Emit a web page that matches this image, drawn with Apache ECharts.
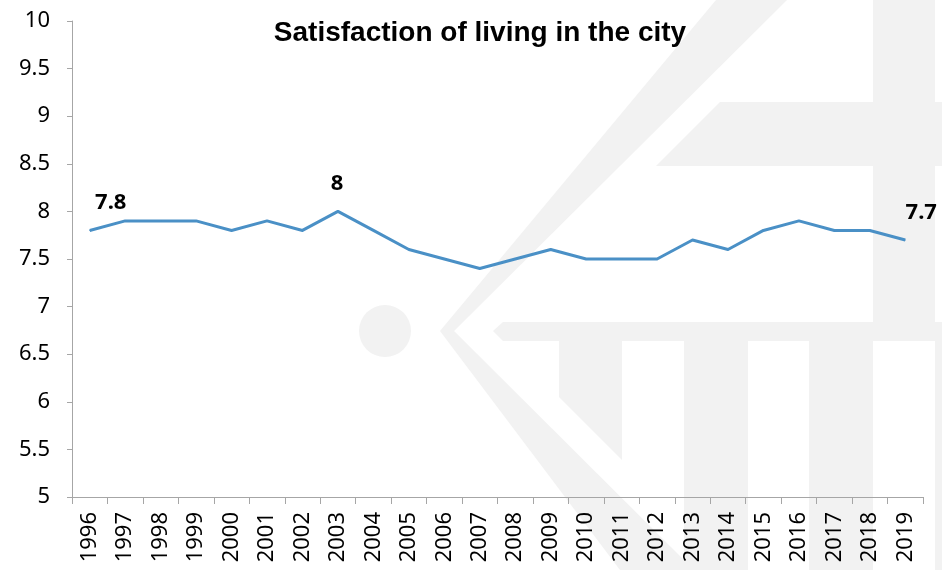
<!DOCTYPE html>
<html>
<head>
<meta charset="utf-8">
<title>Satisfaction of living in the city</title>
<script src="https://cdn.jsdelivr.net/npm/echarts@6/dist/echarts.min.js"></script>
<style>
  html, body { margin: 0; padding: 0; background: #fff; }
  #chart { width: 942px; height: 570px; }
</style>
</head>
<body>
<div id="chart"></div>
<script>
// data
const years = ['1996', '1997', '1998', '1999', '2000', '2001', '2002', '2003', '2004', '2005', '2006', '2007',
  '2008', '2009', '2010', '2011', '2012', '2013', '2014', '2015', '2016', '2017', '2018', '2019']
const satisfaction = [7.8, 7.9, 7.9, 7.9, 7.8, 7.9, 7.8, 8.0, 7.8, 7.6, 7.5, 7.4,
  7.5, 7.6, 7.5, 7.5, 7.5, 7.7, 7.6, 7.8, 7.9, 7.8, 7.8, 7.7]
// which points carry a label, and how far the label sits from the point
const labelled = { '1996': [21, -28], '2003': [-1, -28], '2019': [16, -27] }

const chart = echarts.init(document.getElementById('chart'))

const wmColor = '#f2f2f2'
// faint logo watermark behind the plot
const watermark = [
  { type: 'polygon', shape: { points: [[716, 0], [440, 331], [620, 570], [694, 570], [454, 331], [787, 0]] } },
  { type: 'circle', shape: { cx: 385, cy: 331, r: 26 } },
  { type: 'polygon', shape: { points: [[720, 102], [942, 102], [942, 166], [656, 166]] } },
  { type: 'rect', shape: { x: 873, y: 0, width: 62, height: 322 } },
  { type: 'polygon', shape: { points: [[503, 322], [942, 322], [942, 341], [503, 341], [493, 331]] } },
  { type: 'polygon', shape: { points: [[559, 341], [622, 341], [622, 460], [559, 397]] } },
  { type: 'rect', shape: { x: 684, y: 341, width: 64, height: 229 } },
  { type: 'rect', shape: { x: 809, y: 341, width: 64, height: 229 } },
  { type: 'rect', shape: { x: 935, y: 341, width: 7, height: 229 } }
].map(item => Object.assign(item, { z: -10, silent: true, style: { fill: wmColor } }))

chart.setOption({
  animation: false,
  backgroundColor: '#fff',
  graphic: watermark,
  title: {
    text: 'Satisfaction of living in the city',
    left: 475,
    top: 14,
    textAlign: 'center',
    textStyle: {
      fontFamily: 'Liberation Sans',
      fontWeight: 'bold',
      fontSize: 28,
      color: '#000'
    }
  },
  grid: {
    left: 72,
    right: 19,
    top: 21,
    bottom: 73
  },
  xAxis: {
    type: 'category',
    data: years,
    boundaryGap: true,
    axisLine: { lineStyle: { color: '#a6a6a6', width: 1 } },
    axisTick: { show: true, length: 7, alignWithLabel: false, lineStyle: { color: '#a6a6a6' } },
    axisLabel: {
      interval: 0,
      rotate: 90,
      margin: 15,
      fontFamily: 'Noto Sans',
      fontSize: 22,
      color: '#000'
    },
    splitLine: { show: false }
  },
  yAxis: {
    type: 'value',
    min: 5,
    max: 10,
    interval: 0.5,
    axisLine: { show: true, lineStyle: { color: '#a6a6a6', width: 1 } },
    axisTick: { show: true, length: 5, lineStyle: { color: '#a6a6a6' } },
    axisLabel: {
      margin: 22,
      fontFamily: 'Noto Sans',
      fontSize: 22,
      color: '#000'
    },
    splitLine: { show: false }
  },
  series: [
    {
      type: 'line',
      name: 'Satisfaction',
      symbol: 'circle',
      symbolSize: 1,
      showSymbol: true,
      lineStyle: { color: '#4a90c6', width: 3, join: 'round' },
      itemStyle: { color: '#4a90c6' },
      label: { show: false },
      data: satisfaction.map((v, i) => {
        const off = labelled[years[i]]
        if (!off) return v
        return {
          value: v,
          label: {
            show: true,
            position: 'inside',
            offset: off,
            fontFamily: 'Noto Sans',
            fontWeight: 'bold',
            fontSize: 22,
            color: '#000'
          }
        }
      })
    }
  ]
})
</script>
</body>
</html>
